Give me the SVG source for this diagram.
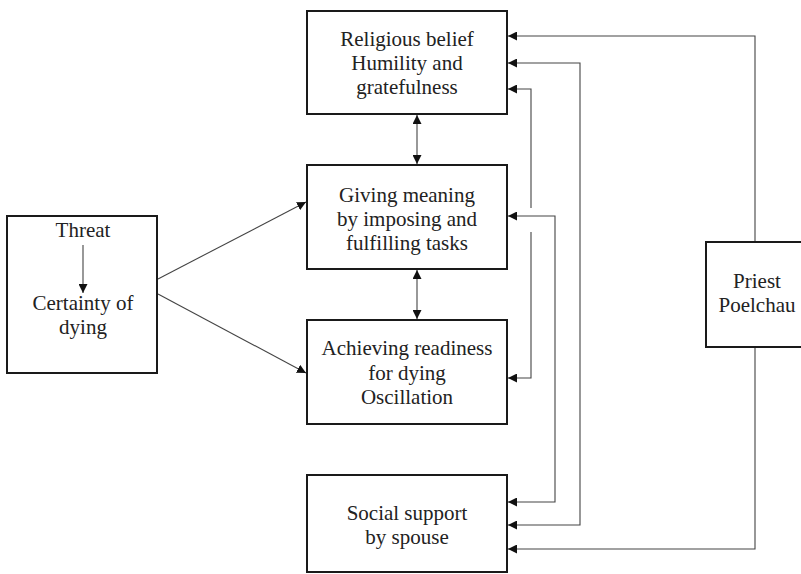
<svg xmlns="http://www.w3.org/2000/svg" width="801" height="574" viewBox="0 0 801 574" font-family="Liberation Serif, Times New Roman, Times, serif" font-size="21">
<style>
.box{fill:#fff;stroke:#1a1a1a;stroke-width:2}
.t{fill:#222;text-anchor:middle}
.c{fill:none;stroke:#444;stroke-width:1.1}
</style>
<defs>
<marker id="ah" viewBox="0 0 10 10" refX="10" refY="5" markerWidth="9" markerHeight="9" markerUnits="userSpaceOnUse" orient="auto-start-reverse">
<path d="M0,0 L10,5 L0,10 z" fill="#111"/>
</marker>
</defs>
<rect width="801" height="574" fill="#fff"/>
<g id="religious">
<rect class="box" x="307" y="11" width="200" height="103"/>
<text class="t" x="407" y="46" font-family="Liberation Serif">Religious belief</text>
<text class="t" x="407" y="70" font-family="Liberation Serif">Humility and</text>
<text class="t" x="407" y="94" font-family="Liberation Serif">gratefulness</text>
</g>
<g id="giving">
<rect class="box" x="307" y="165" width="200" height="104"/>
<text class="t" x="407" y="202" font-family="Liberation Serif">Giving meaning</text>
<text class="t" x="407" y="226" font-family="Liberation Serif">by imposing and</text>
<text class="t" x="407" y="250" font-family="Liberation Serif">fulfilling tasks</text>
</g>
<g id="achieving">
<rect class="box" x="307" y="320" width="200" height="104"/>
<text class="t" x="407" y="355" font-family="Liberation Serif">Achieving readiness</text>
<text class="t" x="407" y="380" font-family="Liberation Serif">for dying</text>
<text class="t" x="407" y="404" font-family="Liberation Serif">Oscillation</text>
</g>
<g id="social">
<rect class="box" x="307" y="475" width="200" height="97"/>
<text class="t" x="407" y="520" font-family="Liberation Serif">Social support</text>
<text class="t" x="407" y="544" font-family="Liberation Serif">by spouse</text>
</g>
<g id="threat">
<rect class="box" x="7" y="216" width="150" height="157"/>
<text class="t" x="83" y="237" font-family="Liberation Serif">Threat</text>
<text class="t" x="83" y="310" font-family="Liberation Serif">Certainty of</text>
<text class="t" x="83" y="334" font-family="Liberation Serif">dying</text>
</g>
<g id="priest">
<rect class="box" x="706" y="242" width="114" height="105"/>
<text class="t" x="757" y="288" font-family="Liberation Serif">Priest</text>
<text class="t" x="757" y="312" font-family="Liberation Serif">Poelchau</text>
</g>
<g id="connectors">
<line class="c" x1="417" y1="115" x2="417" y2="164" marker-start="url(#ah)" marker-end="url(#ah)"/>
<line class="c" x1="417" y1="270" x2="417" y2="319" marker-start="url(#ah)" marker-end="url(#ah)"/>
<line class="c" x1="83" y1="245" x2="83" y2="293" marker-end="url(#ah)"/>
<line class="c" x1="158" y1="279" x2="306" y2="202" marker-end="url(#ah)"/>
<line class="c" x1="158" y1="294" x2="306" y2="373" marker-end="url(#ah)"/>
<path class="c" d="M755,241 V36 H508" marker-end="url(#ah)"/>
<path class="c" d="M755,348 V549 H508" marker-end="url(#ah)"/>
<path class="c" d="M508,63 H580 V525 H508" marker-start="url(#ah)" marker-end="url(#ah)"/>
<path class="c" d="M508,216 H555 V502 H508" marker-start="url(#ah)" marker-end="url(#ah)"/>
<path class="c" d="M508,89 H531 V208" marker-start="url(#ah)"/>
<path class="c" d="M531,232 V378 H508" marker-end="url(#ah)"/>
</g>
</svg>
